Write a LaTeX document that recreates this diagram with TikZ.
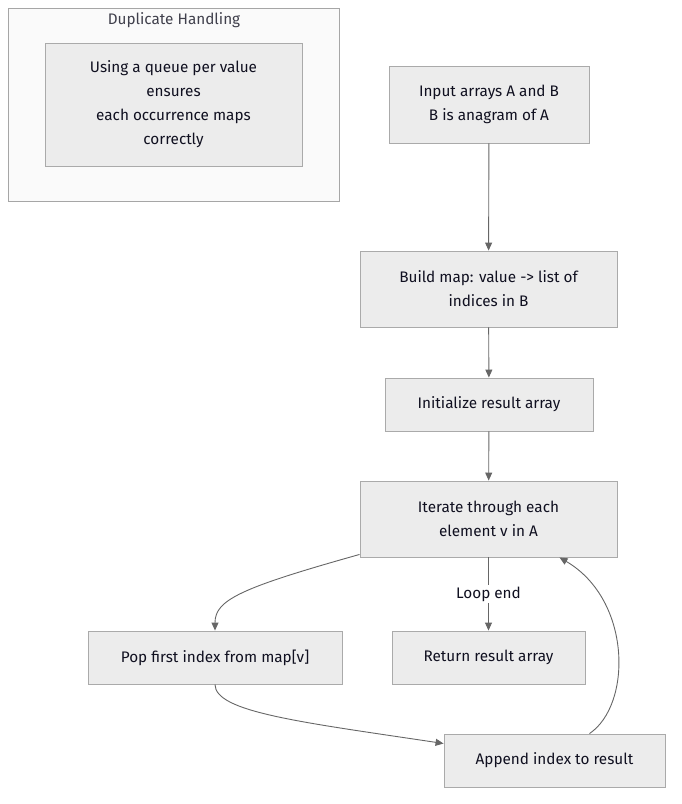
\documentclass[tikz,border=0pt]{standalone}
\usepackage{fontspec}
\setmainfont{Fira Sans}
\usetikzlibrary{arrows.meta}
\definecolor{boxfill}{HTML}{ECECEC}
\definecolor{boxline}{HTML}{AAAAAA}
\definecolor{edgecol}{HTML}{666666}
\definecolor{txtcol}{HTML}{101020}
\begin{document}
\begin{tikzpicture}[x=1pt, y=-1pt,
  box/.style={rectangle, draw=boxline, fill=boxfill, line width=0.9pt,
    align=center, text=txtcol, inner sep=0pt,
    font=\fontsize{15.3}{24}\selectfont},
  cluster/.style={rectangle, draw=gray!70, fill=gray!4, line width=0.9pt},
  edge/.style={draw=edgecol, line width=0.9pt,
    -{Triangle[length=8pt, width=7pt]}},
  lbl/.style={font=\fontsize{15.3}{24}\selectfont, text=txtcol, fill=white,
    inner sep=2pt},
]
\useasboundingbox (0,0) rectangle (681,804);

% Duplicate handling group
\node[cluster, minimum width=331pt, minimum height=193pt] (grp) at (173.5,104.5) {};
\node[font=\fontsize{15.3}{24}\selectfont, text=txtcol!80] (grptitle) at (174,20) {Duplicate Handling};
\node[box, minimum width=257pt, minimum height=123pt] (note) at (173.5,104.5)
  {Using a queue per value\\ensures\\each occurrence maps\\correctly};

% Main flow
\node[box, minimum width=200pt, minimum height=77pt] (inp) at (489,104.5) {Input arrays A and B\\B is anagram of A};
\node[box, minimum width=257pt, minimum height=76pt] (map) at (488.5,289) {Build map: value -> list of\\indices in B};
\node[box, minimum width=208pt, minimum height=53pt] (init) at (489,404.5) {Initialize result array};
\node[box, minimum width=257pt, minimum height=76pt] (iter) at (488.5,519) {Iterate through each\\element v in A};
\node[box, minimum width=254pt, minimum height=53pt] (pop) at (215,657.5) {Pop first index from map[v]};
\node[box, minimum width=193pt, minimum height=53pt] (ret) at (488.5,657.5) {Return result array};
\node[box, minimum width=221pt, minimum height=53pt] (app) at (554.5,760.5) {Append index to result};

% Connectors
\draw[edge] (inp) -- (map);
\draw[edge] (map) -- (init);
\draw[edge] (init) -- (iter);
\draw[edge] (iter) -- node[lbl] (loopend) {Loop end} (ret);
\draw[edge] ([yshift=3pt]iter.south west) .. controls (240,588) and (215,600) .. (pop.north);
\draw[edge] (pop.south) .. controls (215,712) and (300,722) .. ([yshift=17pt]app.west);
\draw[edge] ([xshift=35pt]app.north) .. controls (632,705) and (632,600) .. ([xshift=71pt]iter.south);

\end{tikzpicture}
\end{document}
